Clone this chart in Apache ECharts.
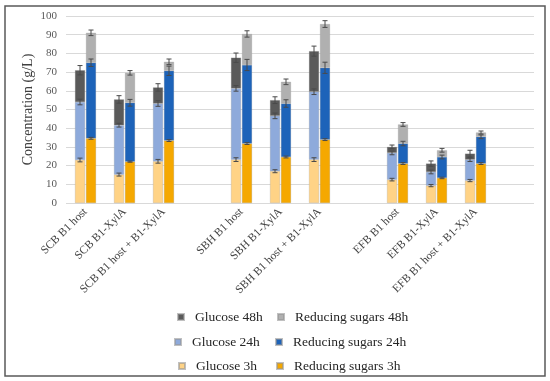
<!DOCTYPE html>
<html>
<head>
<meta charset="utf-8">
<script src="https://cdn.jsdelivr.net/npm/echarts@6/dist/echarts.min.js"></script>
<style>html,body{margin:0;padding:0;background:#fff;}#c{width:550px;height:381px;}</style>
</head>
<body>
<div id="c"></div>
<script>
// ---- data ----
const categories = ['SCB B1 host','SCB B1-XylA','SCB B1 host + B1-XylA','',
  'SBH B1 host','SBH B1-XylA','SBH B1 host + B1-XylA','',
  'EFB B1 host','EFB B1-XylA','EFB B1 host + B1-XylA',''];
const yTicks = [0,10,20,30,40,50,60,70,80,90,100];

const glucose3h   = [23.0,15.2,22.3,null,23.2,17.0,23.2,null,12.5, 9.3,12.0,null];
const glucose24h  = [54.0,41.6,53.2,null,61.3,46.6,59.5,null,26.8,16.6,23.2,null];
const glucose48h  = [71.0,55.4,61.8,null,77.7,55.0,81.2,null,30.0,21.1,26.4,null];
const reducing3h  = [34.6,22.1,33.4,null,31.8,24.6,33.9,null,21.1,13.4,21.1,null];
const reducing24h = [75.0,53.6,70.7,null,73.8,53.2,72.3,null,31.8,24.6,35.4,null];
const reducing48h = [91.0,69.6,75.5,null,90.4,64.8,95.7,null,42.0,28.2,37.7,null];

const glucose3hErr   = [1.0,0.8,1.0,null,1.0,0.8,1.0,null,0.7,0.6,0.6,null];
const glucose24hErr  = [1.5,1.0,1.5,null,1.5,1.5,1.5,null,1.0,1.0,1.0,null];
const glucose48hErr  = [2.5,2.0,2.0,null,2.5,1.8,2.7,null,1.0,1.4,1.8,null];
const reducing3hErr  = [0.5,0.3,0.5,null,0.5,0.5,0.5,null,0.5,0.4,0.5,null];
const reducing24hErr = [2.0,1.8,2.5,null,3.0,2.0,3.0,null,1.2,1.0,1.0,null];
const reducing48hErr = [1.5,1.2,1.5,null,1.7,1.5,1.8,null,1.0,1.0,0.8,null];

// ---- styles ----
const COL = {
  g3:'#FFD386', r3:'#F5A800', g24:'#8EAADB', r24:'#1D63B9', g48:'#5A5A5A', r48:'#B0B0B0'
};
const SERIF = 'Liberation Serif';
const BAR_W = 10, HALF = 5.5;

function diff(a, b){ return a.map((v,i)=> v==null ? null : +(v - (b ? b[i] : 0)).toFixed(2)); }

function barSeries(name, stack, data, color){
  return {name, type:'bar', stack, data, barWidth:BAR_W, barGap:'10%',
    itemStyle:{color, borderColor:'rgba(150,150,150,0.6)', borderWidth:0.4}, z:2};
}

const errData = [];
const layers = [
  [glucose3h, glucose3hErr, -1],[glucose24h, glucose24hErr, -1],[glucose48h, glucose48hErr, -1],
  [reducing3h, reducing3hErr, 1],[reducing24h, reducing24hErr, 1],[reducing48h, reducing48hErr, 1]
];
layers.forEach(([vals, errs, side])=>{
  vals.forEach((v,i)=>{ if(v!=null) errData.push([i, v, errs[i], side]); });
});

const legendItems = [
  {name:'Glucose 48h', left:177, top:310},
  {name:'Reducing sugars 48h', left:277, top:310},
  {name:'Glucose 24h', left:174, top:335},
  {name:'Reducing sugars 24h', left:275, top:335},
  {name:'Glucose 3h', left:178, top:359},
  {name:'Reducing sugars 3h', left:276, top:359}
];

const chart = echarts.init(document.getElementById('c'), null, {renderer:'canvas'});
chart.setOption({
  animation:false,
  backgroundColor:'#fff',
  grid:{left:66, right:16, top:16, bottom:178, containLabel:false},
  legend: legendItems.map(l=>({
    data:[l.name], left:l.left, top:l.top, padding:0,
    itemWidth:6, itemHeight:6, icon:'rect',
    textStyle:{fontFamily:SERIF, fontSize:13.5, color:'#262626', padding:[0,0,0,6]}
  })),
  xAxis:{type:'category', data:categories,
    axisLine:{show:false}, axisTick:{show:false},
    axisLabel:{interval:0, rotate:45, margin:7, fontFamily:SERIF, fontSize:11.5, color:'#404040'}},
  yAxis:{type:'value', min:yTicks[0], max:yTicks[yTicks.length-1], interval:10,
    name:'Concentration (g/L)', nameLocation:'middle', nameGap:31, nameRotate:90,
    nameMoveOverlap:false,
    nameTextStyle:{fontFamily:SERIF, fontSize:14, color:'#404040'},
    axisLine:{show:false}, axisTick:{show:false},
    axisLabel:{margin:9, fontFamily:SERIF, fontSize:11, color:'#595959'},
    splitLine:{lineStyle:{color:'#D9D9D9', width:1}}},
  graphic:[{type:'rect', shape:{x:5, y:6, width:540, height:370},
    style:{fill:null, stroke:'#5a5a5a', lineWidth:1.5}, z:100, silent:true}],
  series:[
    barSeries('Glucose 3h','g', glucose3h, COL.g3),
    barSeries('Glucose 24h','g', diff(glucose24h, glucose3h), COL.g24),
    barSeries('Glucose 48h','g', diff(glucose48h, glucose24h), COL.g48),
    barSeries('Reducing sugars 3h','r', reducing3h, COL.r3),
    barSeries('Reducing sugars 24h','r', diff(reducing24h, reducing3h), COL.r24),
    barSeries('Reducing sugars 48h','r', diff(reducing48h, reducing24h), COL.r48),
    {type:'custom', name:'err', data:errData, z:10, silent:true,
      encode:{x:0, y:1},
      renderItem:function(params, api){
        const ci = api.value(0), v = api.value(1), e = api.value(2), side = api.value(3);
        const x = api.coord([ci, v])[0] + side*HALF;
        const yT = api.coord([ci, v + e])[1];
        const yB = api.coord([ci, v - e])[1];
        const st = {stroke:'#4a4a4a', lineWidth:1};
        return {type:'group', children:[
          {type:'line', shape:{x1:x, y1:yT, x2:x, y2:yB}, style:st},
          {type:'line', shape:{x1:x-2.5, y1:yT, x2:x+2.5, y2:yT}, style:st},
          {type:'line', shape:{x1:x-2.5, y1:yB, x2:x+2.5, y2:yB}, style:st}
        ]};
      }}
  ]
});
</script>
</body>
</html>
